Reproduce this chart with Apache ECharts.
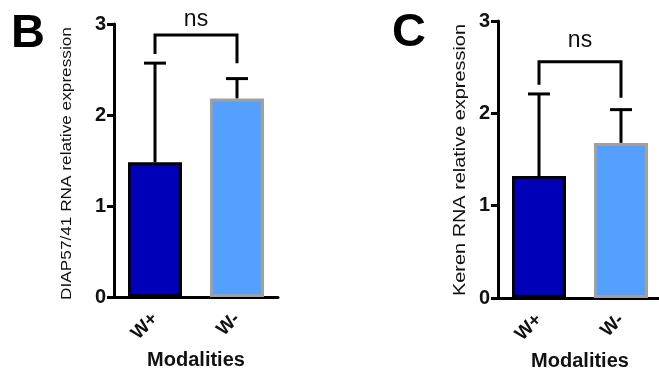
<!DOCTYPE html>
<html>
<head>
<meta charset="utf-8">
<script src="https://cdn.jsdelivr.net/npm/echarts@6/dist/echarts.min.js"></script>
<style>
  html, body { margin: 0; padding: 0; background: #fff; }
  #chart { width: 659px; height: 370px; }
</style>
</head>
<body>
<div id="chart"></div>
<script>
const categories = ['W+', 'W-'];
const yTicks = [0, 1, 2, 3];

// panel B: DIAP57/41
const diapMeans = [1.48, 2.18];
const diapUpper = [2.57, 2.40];
// bracket: [top, left leg end, right leg end, ns label]
const diapBracket = [2.88, 2.67, 2.57, 3.05];

// panel C: Keren
const kerenMeans = [1.32, 1.68];
const kerenUpper = [2.21, 2.04];
const kerenBracket = [2.56, 2.31, 2.17, 2.79];

const barColors = ['#0000b8', '#559fff'];
const barBorders = ['#000', '#a0a0a0'];
const FONT = 'Liberation Sans';

const chart = echarts.init(document.getElementById('chart'));

function barData(means) {
    return means.map((v, i) => ({
        value: v,
        itemStyle: { color: barColors[i], borderColor: barBorders[i], borderWidth: 3 }
    }));
}

function errorSeries(idx, means, upper) {
    return {
        type: 'custom',
        xAxisIndex: idx,
        yAxisIndex: idx,
        z: 1,
        data: means.map((m, i) => [i, m, upper[i]]),
        renderItem: function (params, api) {
            const base = api.coord([api.value(0), api.value(1)]);
            const top = api.coord([api.value(0), api.value(2)]);
            const cap = 11;
            return {
                type: 'group',
                children: [
                    { type: 'line', shape: { x1: base[0], y1: base[1], x2: top[0], y2: top[1] },
                      style: { stroke: '#000', lineWidth: 3 } },
                    { type: 'line', shape: { x1: top[0] - cap, y1: top[1], x2: top[0] + cap, y2: top[1] },
                      style: { stroke: '#000', lineWidth: 3 } }
                ]
            };
        }
    };
}

function bracketSeries(idx, b) {
    return {
        type: 'custom',
        xAxisIndex: idx,
        yAxisIndex: idx,
        clip: false,
        data: [[0, 1, b[0], b[1], b[2], b[3]]],
        renderItem: function (params, api) {
            const l0 = api.coord([api.value(0), api.value(3)]);
            const lt = api.coord([api.value(0), api.value(2)]);
            const rt = api.coord([api.value(1), api.value(2)]);
            const r0 = api.coord([api.value(1), api.value(4)]);
            const nsY = api.coord([api.value(0), api.value(5)])[1];
            return {
                type: 'group',
                children: [
                    { type: 'polyline', shape: { points: [l0, lt, rt, r0] },
                      style: { stroke: '#000', lineWidth: 3, fill: null } },
                    { type: 'text', x: (lt[0] + rt[0]) / 2, y: nsY,
                      style: { text: 'ns', fontFamily: FONT, fontSize: 23, fill: '#111',
                               align: 'center', verticalAlign: 'middle' } }
                ]
            };
        }
    };
}

function xAxis(idx) {
    return {
        type: 'category',
        gridIndex: idx,
        data: categories,
        name: 'Modalities',
        nameLocation: 'middle',
        nameGap: 53,
        nameTextStyle: { fontFamily: FONT, fontSize: 20, fontWeight: 'bold', color: '#111' },
        axisLine: { lineStyle: { color: '#000', width: 3 } },
        axisTick: { alignWithLabel: true, length: 7, lineStyle: { width: 3, color: '#000' } },
        axisLabel: { rotate: 45, margin: 19, fontFamily: FONT, fontSize: 19, fontWeight: 'bold', color: '#111' }
    };
}

function yAxis(idx) {
    return {
        type: 'value',
        gridIndex: idx,
        min: 0,
        max: 3,
        interval: 1,
        splitLine: { show: false },
        axisLine: { show: true, lineStyle: { color: '#000', width: 3 } },
        axisTick: { show: true, length: 7, lineStyle: { width: 3, color: '#000' } },
        axisLabel: { margin: 8, fontFamily: FONT, fontSize: 20, fontWeight: 'bold', color: '#111',
                     formatter: v => yTicks.includes(v) ? String(v) : '' }
    };
}

// rotated y titles, stretched along their length like the original figure
function yTitle(text, x, y, size, stretch) {
    return {
        type: 'text',
        x: x,
        y: y,
        rotation: Math.PI / 2,
        scaleX: stretch,
        style: { text: text, fontFamily: FONT, fontSize: size, fill: '#111',
                 align: 'center', verticalAlign: 'middle' }
    };
}

const option = {
    backgroundColor: '#fff',
    animation: false,
    title: [
        { text: 'B', left: 6, top: 6, textStyle: { fontFamily: FONT, fontSize: 47, fontWeight: 'bold', color: '#000' } },
        { text: 'C', left: 387, top: 5, textStyle: { fontFamily: FONT, fontSize: 47, fontWeight: 'bold', color: '#000' } }
    ],
    graphic: [
        yTitle('DIAP57/41 RNA relative expression', 67.5, 163.5, 14, 1.23),
        yTitle('Keren RNA relative expression', 460.5, 160, 17, 1.17)
    ],
    grid: [
        { left: 114, top: 24, width: 164, height: 273, outerBoundsMode: 'none' },
        { left: 498, top: 21, width: 164, height: 277, outerBoundsMode: 'none' }
    ],
    xAxis: [xAxis(0), xAxis(1)],
    yAxis: [yAxis(0), yAxis(1)],
    series: [
        { type: 'bar', xAxisIndex: 0, yAxisIndex: 0, barWidth: 54, z: 2, data: barData(diapMeans) },
        { type: 'bar', xAxisIndex: 1, yAxisIndex: 1, barWidth: 54, z: 2, data: barData(kerenMeans) },
        errorSeries(0, diapMeans, diapUpper),
        errorSeries(1, kerenMeans, kerenUpper),
        bracketSeries(0, diapBracket),
        bracketSeries(1, kerenBracket)
    ]
};

chart.setOption(option);
</script>
</body>
</html>
